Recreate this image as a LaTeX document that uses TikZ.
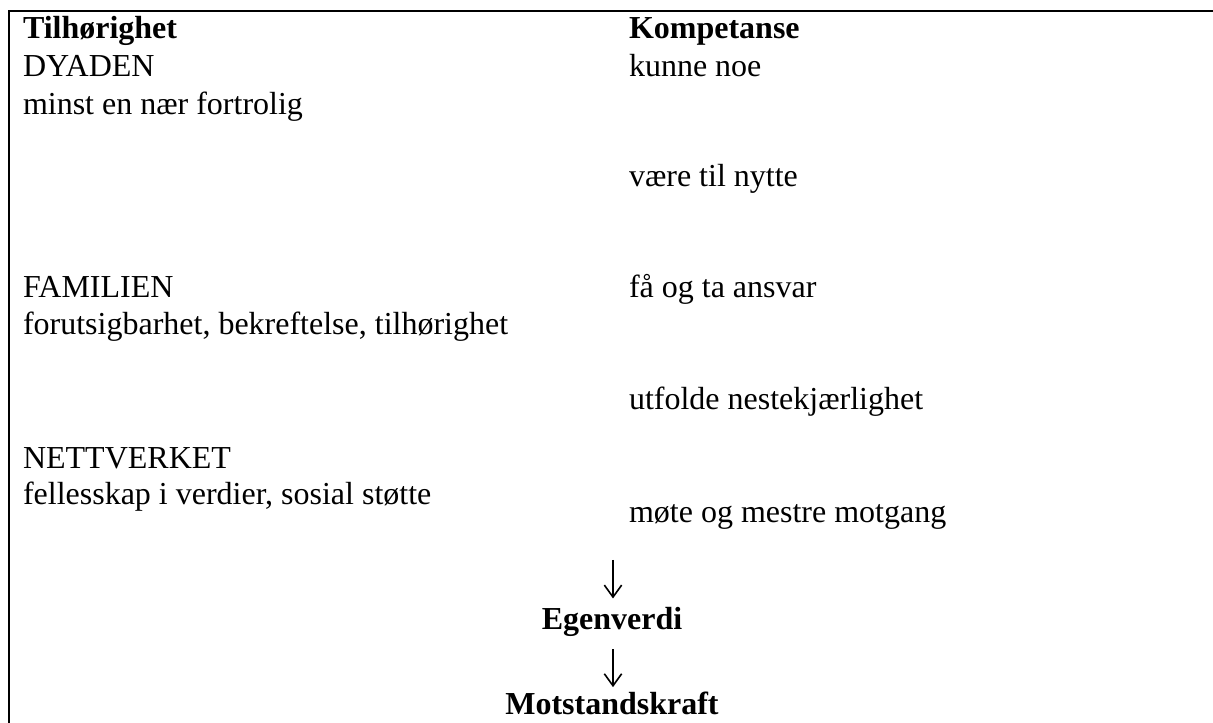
\documentclass[tikz,border=0pt]{standalone}
\usepackage{fontspec}
\setmainfont{Liberation Serif}
\usetikzlibrary{arrows.meta}
\begin{document}
\begin{tikzpicture}[x=0.375pt,y=-0.375pt,
  txt/.style={anchor=base west,inner sep=0pt,outer sep=0pt,font=\fontsize{12}{14}\selectfont},
  head/.style={txt,font=\fontsize{12}{14}\selectfont\bfseries},
  result/.style={anchor=base,inner sep=0pt,outer sep=0pt,font=\fontsize{12}{14}\selectfont\bfseries},
  pil/.style={line width=0.6pt,-{Straight Barb[length=4.5pt,width=6.5pt]}}]
\useasboundingbox (0,0) rectangle (1213,723);
\draw[line width=0.75pt] (9,723) -- (9,11) -- (1213,11);
\node[head] (tilhorighet) at (23,39) {Tilhørighet};
\node[txt] (dyaden) at (23,77) {DYADEN};
\node[txt] (dyadentekst) at (23,115) {minst en nær fortrolig};
\node[txt] (familien) at (23,298) {FAMILIEN};
\node[txt] (familientekst) at (23,335) {forutsigbarhet, bekreftelse, tilhørighet};
\node[txt] (nettverket) at (23,469) {NETTVERKET};
\node[txt] (nettverktekst) at (23,505) {fellesskap i verdier, sosial støtte};
\node[head] (kompetanse) at (629,39) {Kompetanse};
\node[txt] (kunne) at (629,77) {kunne noe};
\node[txt] (nytte) at (629,187) {være til nytte};
\node[txt] (ansvar) at (629,298) {få og ta ansvar};
\node[txt] (nestekj) at (629,410) {utfolde nestekjærlighet};
\node[txt] (motgang) at (629,523) {møte og mestre motgang};
\node[result] (egenverdi) at (612,630) {Egenverdi};
\node[result] (motstand) at (612,715) {Motstandskraft};
\coordinate (pilstart) at (613,560);
\draw[pil] (pilstart) -- (pilstart |- egenverdi.north) [shorten >=3.5pt];
\draw[pil,shorten <=4.5pt,shorten >=2pt] ([xshift=0.375pt]egenverdi.south) -- ([xshift=0.375pt]motstand.north);
\end{tikzpicture}
\end{document}
